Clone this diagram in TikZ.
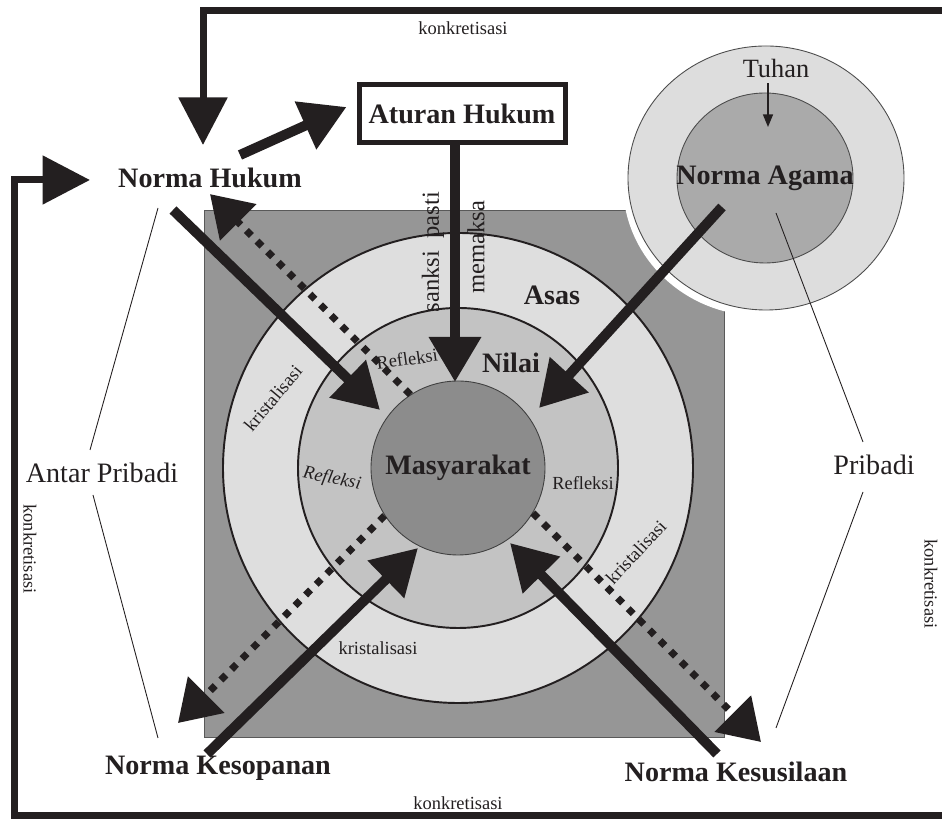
\documentclass[tikz,border=0pt]{standalone}
\usepackage{fontspec}
\setmainfont{Liberation Serif}
\usetikzlibrary{arrows.meta}
\definecolor{ink}{RGB}{35,31,32}
\definecolor{boxgray}{RGB}{150,150,150}
\definecolor{asasgray}{RGB}{222,222,222}
\definecolor{nilaigray}{RGB}{195,195,195}
\definecolor{masygray}{RGB}{140,140,140}
\definecolor{tuhangray}{RGB}{221,221,221}
\definecolor{agamagray}{RGB}{170,170,170}

\begin{document}
\begin{tikzpicture}[
  norma/.style={font=\fontsize{16}{18}\selectfont\bfseries,text=ink},
  plain/.style={font=\fontsize{16}{18}\selectfont,text=ink},
  small/.style={font=\fontsize{10.5}{12}\selectfont,text=ink},
  mid/.style={font=\fontsize{14}{16}\selectfont,text=ink},
  bigarrow/.style={ink,line width=0.2cm,-{Triangle[length=0.9cm,width=1cm]}},
  dotarrow/.style={ink,line width=0.14cm,dash pattern=on 0.14cm off 0.16cm,-{Triangle[length=0.8cm,width=1cm]}},
  framearrow/.style={ink,line width=0.14cm,-{Triangle[length=0.95cm,width=0.95cm]}},
  thinline/.style={ink,line width=0.5pt}]
\useasboundingbox (0,0) rectangle (18.84,16.4);
\coordinate (c) at (9.16,7.04);
\filldraw[fill=boxgray,draw=gray!70!black,line width=0.5pt] (4.08,1.66) rectangle (14.48,12.2);
\fill[white] (15.22,12.72) ellipse (2.76 and 2.64);
\filldraw[fill=tuhangray,draw=gray!60!black,line width=0.5pt] (15.32,12.84) ellipse (2.76 and 2.64);
\filldraw[fill=agamagray,draw=gray!60!black,line width=0.5pt] (15.3,12.84) ellipse (1.76 and 1.70);
\filldraw[fill=asasgray,draw=ink,line width=1.1pt] (c) circle (4.7);
\filldraw[fill=nilaigray,draw=ink,line width=1.1pt] (c) circle (3.2);
\node[circle,minimum size=3.48cm,fill=masygray,draw=gray!50!black,line width=0.5pt,norma] (masy) at (c) {Masyarakat};

\node[norma] (hukum) at (4.2,12.84) {Norma Hukum};
\node[norma,draw=ink,line width=0.1cm,fill=white,minimum width=4.12cm,minimum height=1.16cm] (aturan) at (9.24,14.12) {Aturan Hukum};
\node[norma] (agama) at (15.3,12.84) {Norma Agama};
\node[plain,font=\fontsize{15}{17}\selectfont] (tuhan) at (15.52,15.04) {Tuhan};
\node[norma] (kesopanan) at (4.36,1.04) {Norma Kesopanan};
\node[norma] (kesusilaan) at (14.72,0.96) {Norma Kesusilaan};
\node[plain] (antar) at (2.04,6.94) {Antar Pribadi};
\node[plain] (pribadi) at (17.48,7.1) {Pribadi};
\node[norma] (asas) at (11.04,10.5) {Asas};
\node[norma] (nilai) at (10.22,9.14) {Nilai};
\node[small,rotate=8] (refA) at (8.14,9.22) {Refleksi};
\node[small,font=\fontsize{10.5}{12}\selectfont\itshape,rotate=-11] (refB) at (6.64,6.82) {Refleksi};
\node[small] (refC) at (11.66,6.74) {Refleksi};
\node[small,rotate=50] (krisA) at (5.46,8.44) {kristalisasi};
\node[small] (krisB) at (7.56,3.44) {kristalisasi};
\node[small,rotate=47] (krisC) at (12.72,5.36) {kristalisasi};
\node[mid,rotate=90] (sanksi) at (8.66,11.36) {sanksi\ \ pasti};
\node[mid,rotate=90] (memaksa) at (9.52,11.46) {memaksa};
\node[small] (konA) at (9.26,15.84) {konkretisasi};
\node[small] (konB) at (9.16,0.34) {konkretisasi};
\node[small,rotate=-90] (konC) at (0.6,5.42) {konkretisasi};
\node[small,rotate=-90] (konD) at (18.62,4.72) {konkretisasi};

\coordinate (tipA) at (7.6,8.2);
\coordinate (tipB) at (10.78,8.24);
\coordinate (tipC) at (8.36,5.44);
\coordinate (tipD) at (10.2,5.54);
\coordinate (tipE) at (9.1,8.76);
\coordinate (tipF) at (4.06,13.5);
\coordinate (tipG) at (1.8,12.8);
\coordinate (tipT) at (15.36,13.86);
\coordinate (dotB) at (3.56,1.94);
\coordinate (dotC) at (15.22,1.56);
\coordinate (frTop) at (18.9,16.18);
\coordinate (frBot) at (18.9,0.08);
\coordinate (frLeft) at (0.28,12.8);

\draw[thinline] ([shift={(-1.04,-0.6)}]hukum.center) -- ([shift={(-0.24,0.46)}]antar.center);
\draw[thinline] ([shift={(-0.18,-0.44)}]antar.center) -- ([shift={(-1.2,0.6)}]kesopanan.center);
\draw[thinline] ([shift={(0.22,-0.7)}]agama.center) -- ([shift={(-0.22,0.46)}]pribadi.center);
\draw[thinline] ([shift={(-0.22,-0.54)}]pribadi.center) -- ([shift={(0.8,0.88)}]kesusilaan.center);
\draw[ink,line width=0.7pt,-{Triangle[length=0.25cm,width=0.2cm]}] (tuhan.south -| tipT) -- (tipT);

\draw[dotarrow] (masy.123) -- (hukum.south);
\draw[dotarrow] (masy.213) -- (dotB);
\draw[dotarrow] (masy.-31) -- (dotC);

\draw[bigarrow] ([shift={(-0.74,-0.64)}]hukum.center) -- (tipA);
\draw[bigarrow] ([shift={(0.6,0.46)}]hukum.center) -- ([shift={(-0.2,0.14)}]aturan.west);
\draw[bigarrow] (aturan.south -| tipE) -- (tipE);
\draw[bigarrow] ([shift={(-0.86,-0.58)}]agama.center) -- (tipB);
\draw[bigarrow] ([shift={(-0.22,0.28)}]kesopanan.center) -- (tipC);
\draw[bigarrow] ([shift={(-0.38,0.36)}]kesusilaan.center) -- (tipD);

\draw[framearrow] (frTop) -| (tipF);
\draw[framearrow] (frBot) -| (frLeft) -- (tipG);
\end{tikzpicture}
\end{document}
